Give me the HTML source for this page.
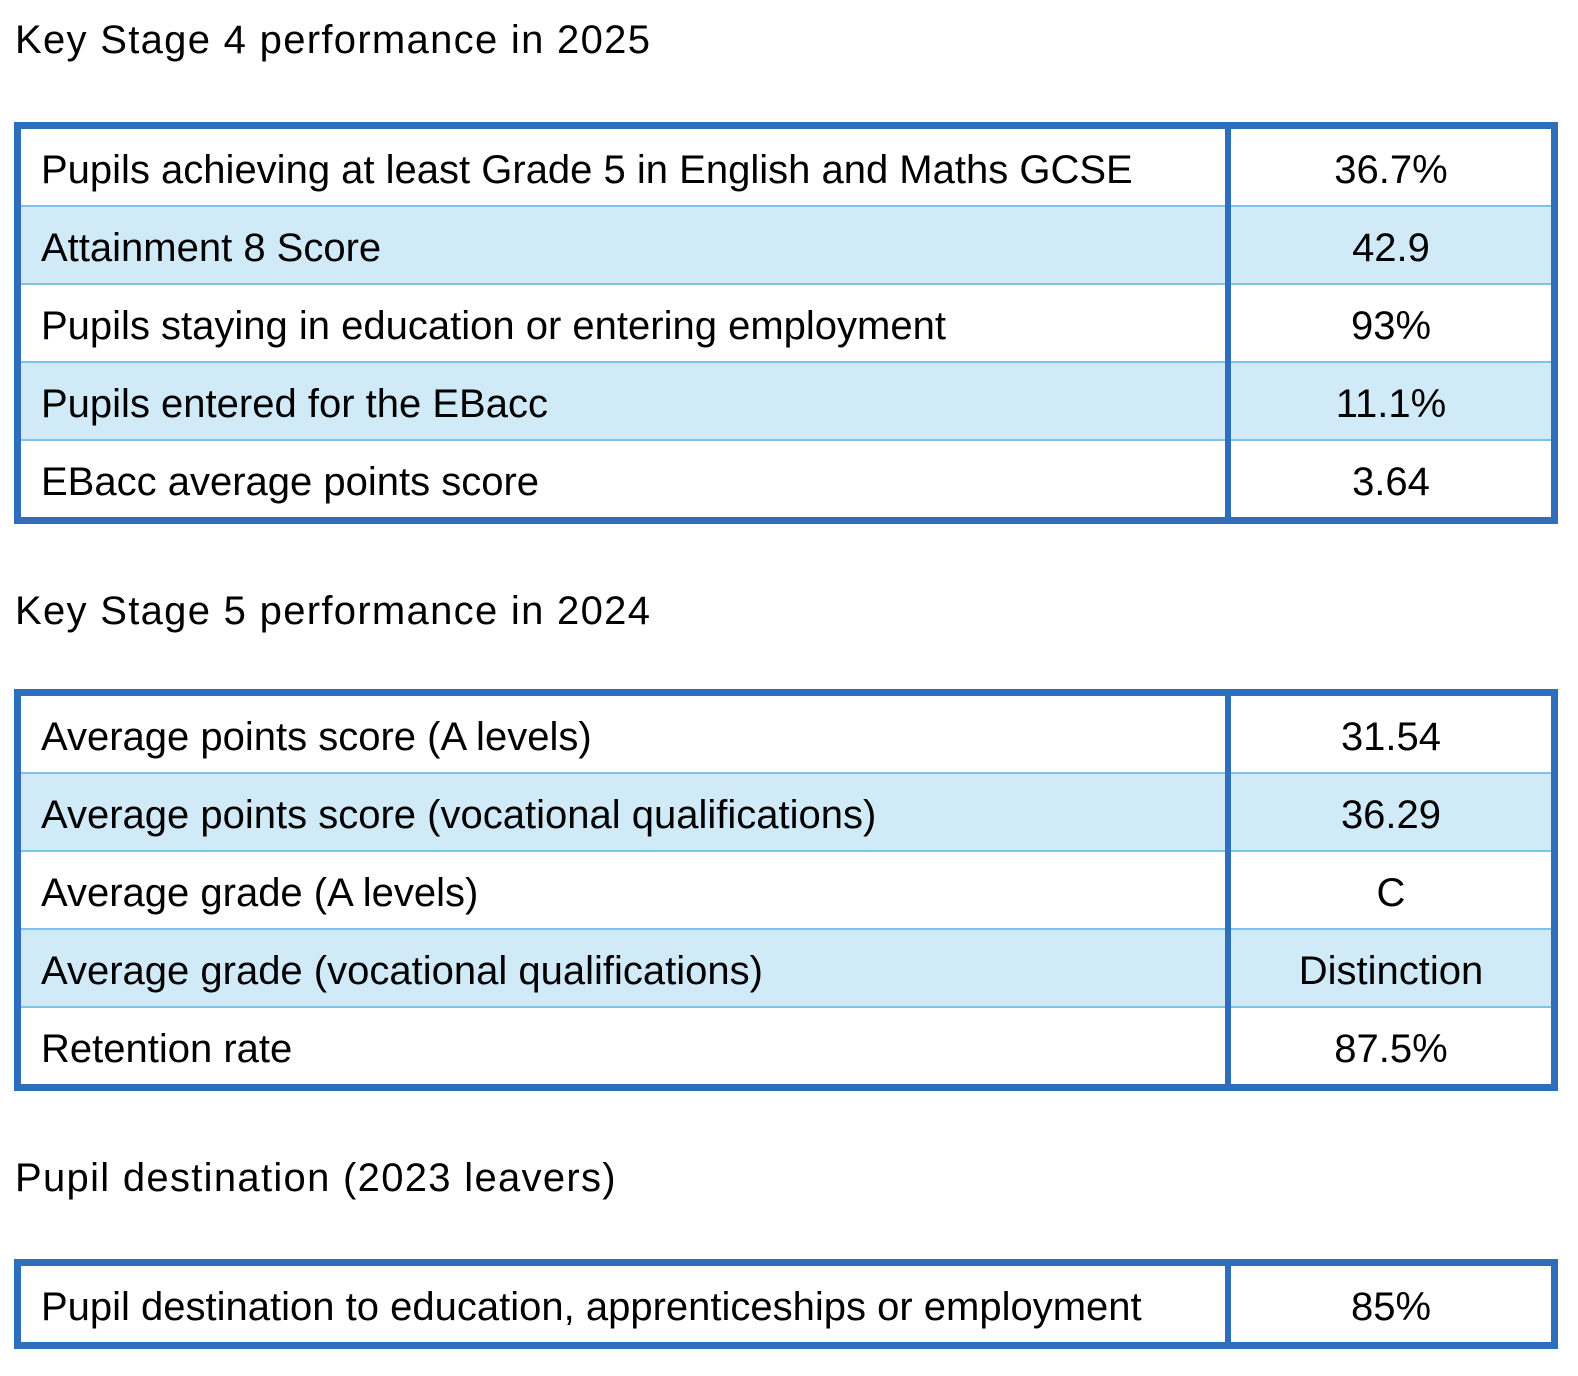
<!DOCTYPE html>
<html><head><meta charset="utf-8"><style>
body{margin:0;background:#fff;width:1578px;height:1376px;position:relative;font-family:"Liberation Sans",sans-serif;color:#000;overflow:hidden}
.h{position:absolute;left:15px;font-size:40px;letter-spacing:1.3px;white-space:nowrap}
table{position:absolute;left:14px;width:1544px;border-collapse:collapse;border:7px solid #2f6ebb;table-layout:fixed}
td{height:70px;padding:6px 0 0 0;font-size:40px;white-space:nowrap;border-top:2px solid #7cc3ea}
tr:first-child td{border-top:none}
td.l{padding-left:20px;width:1184px;border-right:6px solid #2f6ebb}
td.r{text-align:center}
tr.s td{background:#d0eaf7}
</style></head><body>
<div class="h" style="top:18px">Key Stage 4 performance in 2025</div>
<table style="top:122px">
<tr><td class="l">Pupils achieving at least Grade 5 in English and Maths GCSE</td><td class="r">36.7%</td></tr>
<tr class="s"><td class="l">Attainment 8 Score</td><td class="r">42.9</td></tr>
<tr><td class="l">Pupils staying in education or entering employment</td><td class="r">93%</td></tr>
<tr class="s"><td class="l">Pupils entered for the EBacc</td><td class="r">11.1%</td></tr>
<tr><td class="l">EBacc average points score</td><td class="r">3.64</td></tr>
</table>
<div class="h" style="top:589px">Key Stage 5 performance in 2024</div>
<table style="top:689px">
<tr><td class="l">Average points score (A levels)</td><td class="r">31.54</td></tr>
<tr class="s"><td class="l">Average points score (vocational qualifications)</td><td class="r">36.29</td></tr>
<tr><td class="l">Average grade (A levels)</td><td class="r">C</td></tr>
<tr class="s"><td class="l">Average grade (vocational qualifications)</td><td class="r">Distinction</td></tr>
<tr><td class="l">Retention rate</td><td class="r">87.5%</td></tr>
</table>
<div class="h" style="top:1156px">Pupil destination (2023 leavers)</div>
<table style="top:1259px">
<tr><td class="l" style="height:70px">Pupil destination to education, apprenticeships or employment</td><td class="r">85%</td></tr>
</table>
</body></html>
